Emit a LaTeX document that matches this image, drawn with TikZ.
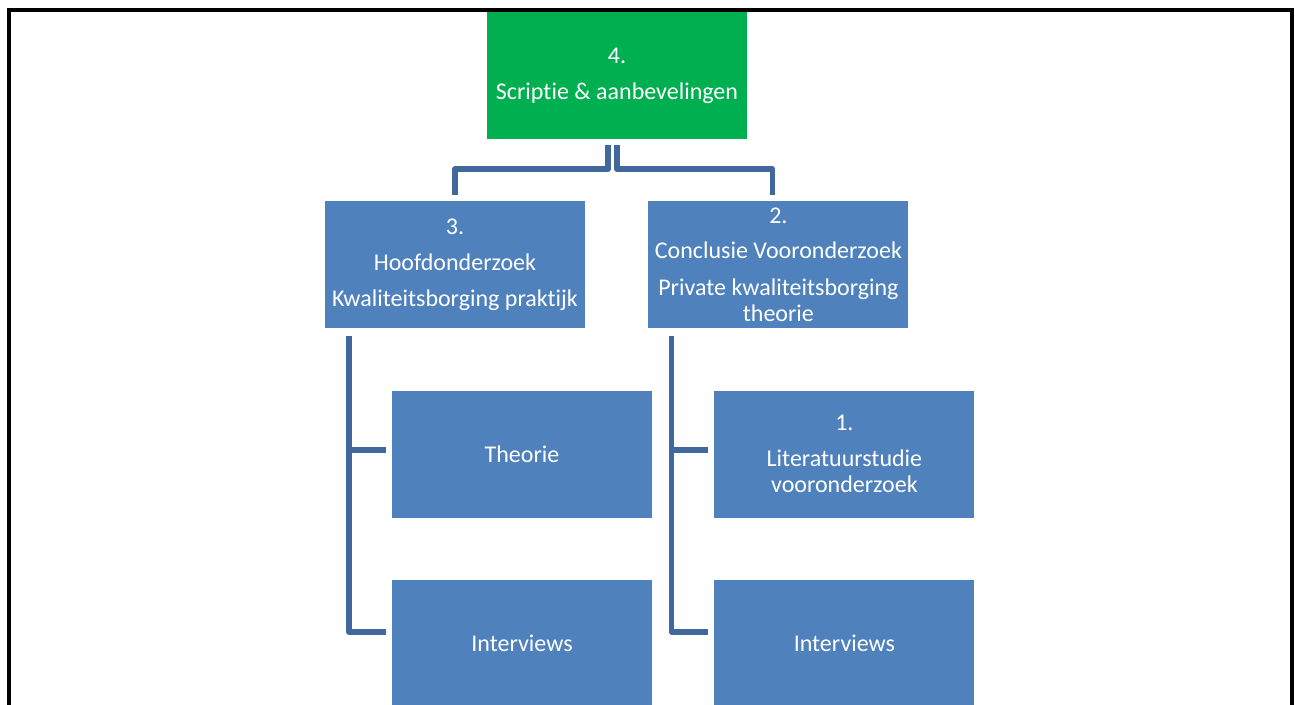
\documentclass[tikz,border=0pt]{standalone}
\usepackage{fontspec}
\setmainfont{Carlito}[Ligatures={NoCommon}]
\usetikzlibrary{positioning}

\definecolor{boxblue}{HTML}{4F81BD}
\definecolor{linkblue}{HTML}{41689C}
\definecolor{topgreen}{HTML}{00B050}

\begin{document}
\begin{tikzpicture}[x=1pt,y=1pt,node distance=62pt,
  blok/.style={fill=boxblue,text=white,align=center,minimum width=260pt,minimum height=127pt,
    inner sep=0pt,font=\fontsize{24}{26}\selectfont},
  conn/.style={draw=linkblue,line width=5.5pt,line join=round}]
  \useasboundingbox (0,0) rectangle (1295,704);
  % frame
  \draw[line width=4pt] (9,-10) -- (9,693.5) -- (1291.5,693.5) -- (1291.5,-10);

  \node[blok, fill=topgreen] (top) at (617,628.5) {4.\\[10pt] Scriptie \& aanbevelingen};
  \node[blok, below=of top.south, xshift=-162pt] (three) {3.\\[10pt] Hoofdonderzoek\\[10pt] Kwaliteitsborging praktijk};
  \node[blok, right=63pt of three] (two) {2.\\[9pt] Conclusie Vooronderzoek\\[11pt] Private kwaliteitsborging\\ theorie};
  \node[blok, below=of three, xshift=67pt] (theorie) {Theorie};
  \node[blok, right=of theorie] (lit) {1.\\[10pt] Literatuurstudie\\ vooronderzoek};
  \node[blok, below=of theorie] (int1) {};
  \node[blok, below=of lit] (int2) {};
  \node[text=white,font=\fontsize{24}{26}\selectfont] at ([yshift=-63pt]int1.north) {Interviews};
  \node[text=white,font=\fontsize{24}{26}\selectfont] at ([yshift=-63pt]int2.north) {Interviews};

  \draw[conn] ([xshift=-9pt,yshift=-6pt]top.south) -- ++(0,-24) -| ([yshift=6pt]three.north);
  \draw[conn] ([yshift=-6pt]top.south) -- ++(0,-24) -| ([xshift=-6pt,yshift=6pt]two.north);

  \draw[conn] ([xshift=-106pt,yshift=-7pt]three.south) |- ([xshift=-6pt,yshift=-52pt]int1.north west);
  \draw[conn] ([xshift=-6pt,yshift=4.5pt]theorie.west) -- ++(-37,0);
  \draw[conn] ([xshift=-107pt,yshift=-7pt]two.south) |- ([xshift=-6pt,yshift=-52pt]int2.north west);
  \draw[conn] ([xshift=-6pt,yshift=4.5pt]lit.west) -- ++(-37,0);
\end{tikzpicture}
\end{document}
